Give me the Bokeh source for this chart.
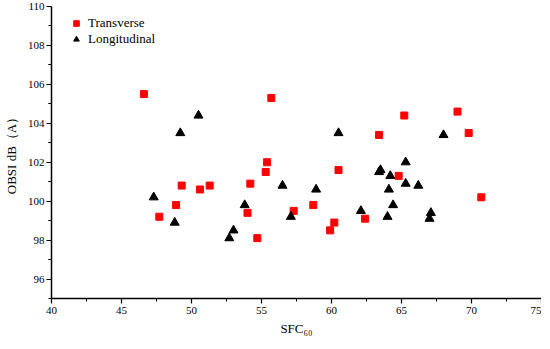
from bokeh.plotting import figure
from bokeh.models import Legend, LegendItem, FixedTicker
from bokeh.embed import file_html
from bokeh.resources import INLINE

trans_x = [46.6, 55.7, 55.4, 55.3, 49.3, 50.6, 51.3, 54.2, 48.9, 47.7, 54.0, 54.7,
           57.3, 58.7, 60.2, 59.9, 60.5, 62.4, 64.8, 70.7, 65.2, 69.0, 63.4, 69.8]
trans_y = [105.5, 105.3, 102.0, 101.5, 100.8, 100.6, 100.8, 100.9, 99.8, 99.2, 99.4, 98.1,
           99.5, 99.8, 98.9, 98.5, 101.6, 99.1, 101.3, 100.2, 104.4, 104.6, 103.4, 103.5]
long_x = [50.5, 49.2, 60.5, 68.0, 65.3, 63.5, 63.4, 64.2, 47.3, 48.8, 53.8, 53.0,
          52.7, 56.5, 57.1, 58.9, 65.3, 66.2, 64.1, 64.4, 62.1, 64.0, 67.1, 67.0]
long_y = [104.4, 103.5, 103.5, 103.4, 102.0, 101.6, 101.5, 101.3, 100.2, 98.9, 99.8, 98.5,
          98.1, 100.8, 99.2, 100.6, 100.9, 100.8, 100.6, 99.8, 99.5, 99.2, 99.4, 99.1]
x_ticks = [40, 45, 50, 55, 60, 65, 70, 75]
y_ticks = [96, 98, 100, 102, 104, 106, 108, 110]

FONT = "Times New Roman"

p = figure(frame_width=490, frame_height=292, output_backend="svg", toolbar_location=None,
           x_range=(40, 75), y_range=(95, 110),
           min_border_left=50, min_border_right=0, min_border_top=6, min_border_bottom=42)
p.outline_line_color = None
p.grid.visible = False

r1 = p.scatter(trans_x, trans_y, marker="square", size=7, color="#ff0000", line_color="#ff0000")
r2 = p.scatter(long_x, long_y, marker="triangle", size=9, color="black", line_color="black")

for ax in (p.xaxis[0], p.yaxis[0]):
    ax.axis_line_color = "black"
    ax.axis_line_width = 1.5
    ax.major_tick_line_color = "black"
    ax.major_tick_line_width = 1.2
    ax.minor_tick_line_color = "black"
    ax.major_tick_out = 5
    ax.major_tick_in = 0
    ax.minor_tick_out = 3
    ax.minor_tick_in = 0
    ax.major_label_text_font = FONT
    ax.major_label_text_font_size = "11px"
    ax.major_label_text_color = "black"
    ax.axis_label_text_font = FONT
    ax.axis_label_text_font_size = "13px"
    ax.axis_label_text_font_style = "normal"
    ax.axis_label_text_color = "black"

p.xaxis.ticker = FixedTicker(ticks=x_ticks, minor_ticks=[42.5 + 5 * i for i in range(7)])
p.yaxis.ticker = FixedTicker(ticks=y_ticks, minor_ticks=[95 + 2 * i for i in range(8)] + [97 + 2 * i for i in range(6)])
p.xaxis.axis_label = "SFC₆₀"
p.yaxis.axis_label = "OBSI dB（A）"
p.xaxis.axis_label_standoff = 4
p.yaxis.axis_label_standoff = 6
p.xaxis.major_label_standoff = 3
p.yaxis.major_label_standoff = 2

legend = Legend(items=[LegendItem(label="Transverse", renderers=[r1]),
                       LegendItem(label="Longitudinal", renderers=[r2])],
                location=(18, 251), orientation="vertical")
legend.border_line_color = None
legend.background_fill_alpha = 0
legend.label_text_font = FONT
legend.label_text_font_size = "13px"
legend.label_text_color = "black"
legend.glyph_width = 14
legend.glyph_height = 14
legend.label_height = 14
legend.label_standoff = 5
legend.spacing = 0
legend.padding = 2
legend.margin = 0
p.add_layout(legend, "center")

open("out.html", "w").write(file_html(p, INLINE))
